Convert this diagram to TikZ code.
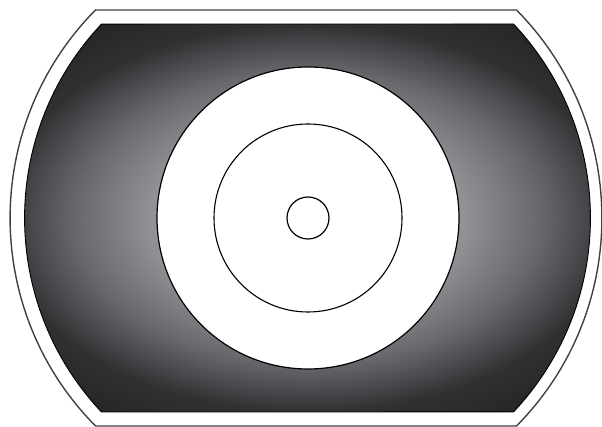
\documentclass[tikz,border=0pt]{standalone}
\pgfdeclareradialshading{vignette}{\pgfpoint{0bp}{0bp}}{%
  color(0bp)=(rgb,1:red,0.80;green,0.80;blue,0.81);
  color(13bp)=(rgb,1:red,0.57;green,0.56;blue,0.58);
  color(19bp)=(rgb,1:red,0.41;green,0.40;blue,0.42);
  color(25bp)=(rgb,1:red,0.19;green,0.19;blue,0.20);
  color(36bp)=(rgb,1:red,0.10;green,0.10;blue,0.10)}
\tikzset{
  outerline/.style={draw=black!75, line width=1.4pt},
  innerline/.style={draw=black, line width=0.9pt},
  ringline/.style={draw=black, line width=1.2pt, fill=white}
}
\begin{document}
\begin{tikzpicture}[x=1pt,y=1pt]
\useasboundingbox (0,0) rectangle (602,427);
% outer outline
\path[outerline] (516.5,417) arc[start angle=44.65, end angle=-44.65, radius=296pt]
  -- (95.5,1) arc[start angle=224.65, end angle=135.35, radius=296pt] -- cycle;
% shaded inner shape
\path[shading=vignette, innerline] (513.5,403) arc[start angle=43.27, end angle=-43.27, radius=283pt]
  -- (101.5,15) arc[start angle=223.27, end angle=136.73, radius=283pt] -- cycle;
% white disc and circles
\path[ringline] (308,209) circle[radius=151pt];
\draw[line width=1.1pt] (308,209) circle[radius=94pt];
\draw[line width=1.2pt] (308,209) circle[radius=21pt];
\end{tikzpicture}
\end{document}
